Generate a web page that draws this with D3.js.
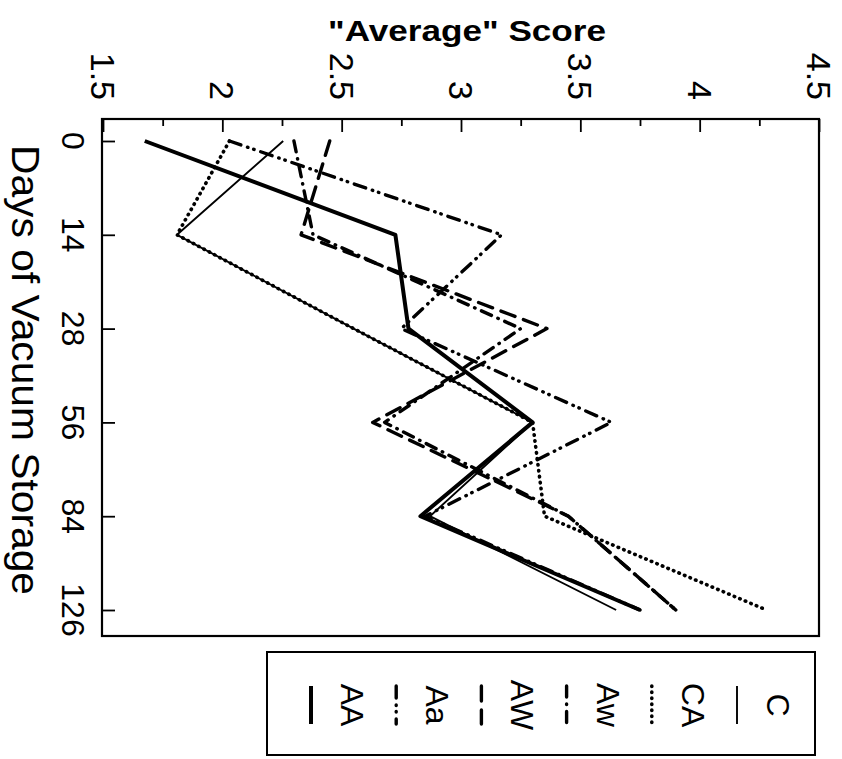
<!DOCTYPE html>
<html><head><meta charset="utf-8">
<script src="https://cdn.jsdelivr.net/npm/d3@7"></script>
<style>body{margin:0;background:#fff}svg{display:block}</style>
</head><body>
<svg id="chart" width="842" height="759"></svg>
<script>
// ---- data ----
const days = ["0", "14", "28", "56", "84", "126"];
const seriesNames = ["C", "CA", "Aw", "AW", "Aa", "AA"];
const valC  = [2.255, 1.81, 2.55, 3.30, 2.87, 3.65];
const valCA = [2.03, 1.81, 2.55, 3.30, 3.35, 4.28];
const valAw = [2.30, 2.38, 3.25, 2.68, 3.45, 3.90];
const valAW = [2.45, 2.33, 3.36, 2.63, 3.45, 3.90];
const valAa = [2.03, 3.17, 2.75, 3.63, 2.85, 3.75];
const valAA = [1.675, 2.725, 2.78, 3.30, 2.83, 3.75];
const scoreTicks = [1.5, 2, 2.5, 3, 3.5, 4, 4.5];
const minorTicks = [1.75, 2.25, 2.75, 3.25, 3.75, 4.25];
const valueTitle = "\"Average\" Score";
const dayTitle = "Days of Vacuum Storage";

const seriesValues = [valC, valCA, valAw, valAW, valAa, valAA];
const styles = {
  C:  {w: 1.9, dash: null, cap: "butt"},
  CA: {w: 3.6, dash: "0.5,5.5", cap: "round"},
  Aw: {w: 3.4, dash: "11,7,0.5,7", cap: "round"},
  AW: {w: 3.4, dash: "15,9", cap: "round"},
  Aa: {w: 3.4, dash: "12,7,0.5,6,0.5,7", cap: "round"},
  AA: {w: 4, dash: null, cap: "butt"}
};

const svg = d3.select("#chart");
const FONT = "'Liberation Sans', Arial, sans-serif";
const L = 102, R = 819, T = 119, B = 636;

const x = d3.scaleLinear().domain([1.5, 4.5]).range([L + 1, R]);
const y = d3.scalePoint().domain(days).range([141, 610]);

// frame
svg.append("rect").attr("x", L).attr("y", T).attr("width", R - L).attr("height", B - T)
  .attr("fill", "none").attr("stroke", "#000").attr("stroke-width", 2.2);

// top value axis (ticks pointing inward)
const gTopMajor = svg.append("g").attr("transform", `translate(0,${T})`)
  .call(d3.axisTop(x).tickValues(scoreTicks).tickSizeInner(-13).tickSizeOuter(0).tickFormat(""));
const gTopMinor = svg.append("g").attr("transform", `translate(0,${T})`)
  .call(d3.axisTop(x).tickValues(minorTicks).tickSizeInner(-7).tickSizeOuter(0).tickFormat(""));
[gTopMajor, gTopMinor].forEach(g => {
  g.select(".domain").remove();
  g.selectAll(".tick line").attr("stroke", "#000").attr("stroke-width", 1.8);
});

svg.append("g").selectAll("text").data(scoreTicks).join("text")
  .attr("transform", d => `translate(${x(d)},${T - 19}) rotate(90)`)
  .attr("text-anchor", "end").attr("dominant-baseline", "central")
  .attr("font-family", FONT).attr("font-size", 34).attr("fill", "#000")
  .text(d => d3.format("")(d));

// left category axis (ticks inward)
const gLeft = svg.append("g").attr("transform", `translate(${L},0)`)
  .call(d3.axisLeft(y).tickSizeInner(-13).tickSizeOuter(0).tickFormat(""));
gLeft.select(".domain").remove();
gLeft.selectAll(".tick line").attr("stroke", "#000").attr("stroke-width", 1.8);

svg.append("g").selectAll("text").data(days).join("text")
  .attr("transform", d => `translate(${L - 29},${y(d)}) rotate(90)`)
  .attr("text-anchor", "middle").attr("dominant-baseline", "central")
  .attr("font-family", FONT).attr("font-size", 32).attr("fill", "#000")
  .text(d => d);

// titles
svg.append("text").attr("x", 467).attr("y", 41).attr("text-anchor", "middle")
  .attr("font-family", FONT).attr("font-weight", "bold").attr("font-size", 30)
  .attr("textLength", 278).attr("lengthAdjust", "spacingAndGlyphs")
  .text(valueTitle);
svg.append("text").attr("transform", `translate(12,${370}) rotate(90)`)
  .attr("text-anchor", "middle")
  .attr("font-family", FONT).attr("font-size", 38)
  .attr("textLength", 450).attr("lengthAdjust", "spacingAndGlyphs")
  .text(dayTitle);

// lines
const line = d3.line().x(d => x(d.v)).y(d => y(d.day));
const gLines = svg.append("g");
seriesNames.forEach((name, i) => {
  const data = days.map((day, j) => ({day, v: seriesValues[i][j]}));
  const st = styles[name];
  gLines.append("path").datum(data).attr("d", line)
    .attr("fill", "none").attr("stroke", "#000")
    .attr("stroke-width", st.w).attr("stroke-dasharray", st.dash)
    .attr("stroke-linecap", st.cap).attr("stroke-linejoin", "round");
});

// legend
const LG = {l: 267, t: 652, r: 815, b: 755};
svg.append("rect").attr("x", LG.l).attr("y", LG.t).attr("width", LG.r - LG.l).attr("height", LG.b - LG.t)
  .attr("fill", "none").attr("stroke", "#000").attr("stroke-width", 2);
const legX = d3.scalePoint().domain(seriesNames).range([778, 352]);
const gLeg = svg.append("g");
seriesNames.forEach(name => {
  const cx = legX(name);
  const st = styles[name];
  gLeg.append("text").attr("transform", `translate(${cx},${705}) rotate(90)`)
    .attr("text-anchor", "middle").attr("dominant-baseline", "central")
    .attr("font-family", FONT).attr("font-size", 32).text(name);
  gLeg.append("line").attr("x1", cx - 41).attr("x2", cx - 41).attr("y1", 686).attr("y2", 724)
    .attr("stroke", "#000").attr("stroke-width", st.w)
    .attr("stroke-dasharray", st.dash).attr("stroke-linecap", st.cap);
});
</script>
</body></html>
